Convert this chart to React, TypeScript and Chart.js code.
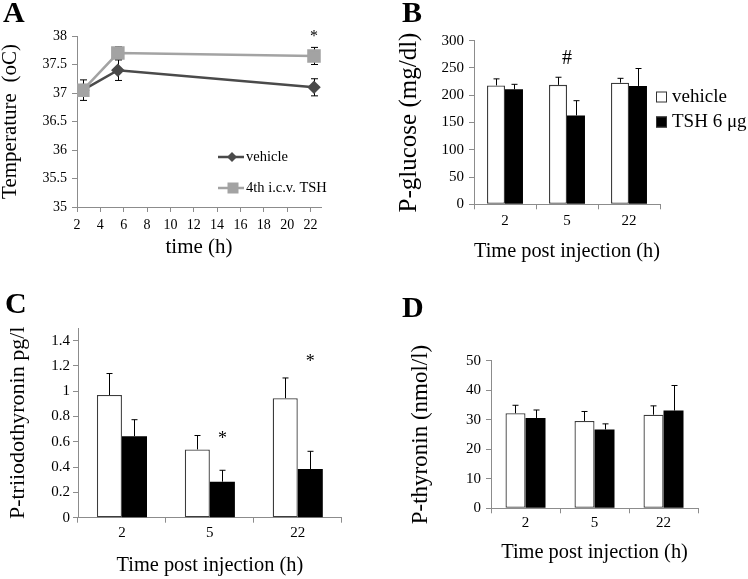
import React, { useEffect, useRef } from "react";
import { Chart, registerables } from "chart.js";
Chart.register(...registerables);

const FONT = "'Liberation Serif', 'Times New Roman', serif";
const AXIS = "#8c8c8c";

// ---------- Panel A: temperature ----------
const aTime = [2.5, 5.5, 22.3];
const aVehicle = [37.05, 37.4, 37.1];
const aVehicleErr = [0.18, 0.18, 0.15];
const aTsh = [37.05, 37.7, 37.65];
const aTshErr = [0.1, 0.11, 0.15];
const aLegend = ["vehicle", "4th i.c.v. TSH"];
const aSigTime = [22.3];
const aSigLevel = [37.92];

// ---------- Bar panels ----------
const barCategories = ["2", "5", "22"];

const bVehicle = [218, 219, 223];
const bVehicleErr = [12, 14, 8];
const bTsh = [211, 163, 217];
const bTshErr = [9, 27, 32];
const bLegend = ["vehicle", "TSH 6 μg"];
const bSigCategory = [1];
const bSigLevel = [258];

const cVehicle = [0.97, 0.54, 0.945];
const cVehicleErr = [0.17, 0.11, 0.16];
const cTsh = [0.645, 0.285, 0.385];
const cTshErr = [0.13, 0.09, 0.14];
const cSigCategory = [1, 2];
const cSigLevel = [0.583, 1.188];

const dVehicle = [32.2, 29.6, 31.7];
const dVehicleErr = [2.7, 3.2, 3.0];
const dTsh = [30.6, 26.7, 33.1];
const dTshErr = [2.7, 1.9, 8.5];

// ---------- plugins ----------
function drawErrors(chart: any, o: any) {
  const ctx = chart.ctx;
  const ys = chart.scales.y;
  ctx.save();
  ctx.strokeStyle = "#000";
  ctx.lineWidth = 1;
  (o.errors || []).forEach((errs: number[], di: number) => {
    const meta = chart.getDatasetMeta(di);
    const data = chart.data.datasets[di].data;
    meta.data.forEach((el: any, i: number) => {
      const raw = data[i];
      const v = typeof raw === "number" ? raw : raw.y;
      const e = errs[i];
      const top = ys.getPixelForValue(v + e);
      const bot = o.both ? ys.getPixelForValue(v - e) : ys.getPixelForValue(v);
      const x = Math.round(el.x) + 0.5;
      const cap = o.cap || 3;
      ctx.beginPath();
      ctx.moveTo(x, bot);
      ctx.lineTo(x, top);
      ctx.moveTo(x - cap, top);
      ctx.lineTo(x + cap, top);
      if (o.both) {
        ctx.moveTo(x - cap, bot);
        ctx.lineTo(x + cap, bot);
      }
      ctx.stroke();
    });
  });
  ctx.restore();
}

const errorBarPlugin = {
  id: "errorBars",
  beforeDatasetsDraw(chart: any, _a: any, o: any) {
    if (o.before) drawErrors(chart, o);
  },
  afterDatasetsDraw(chart: any, _a: any, o: any) {
    if (!o.before) drawErrors(chart, o);
  },
};

const marksPlugin = {
  id: "marks",
  afterDraw(chart: any, _a: any, o: any) {
    const ctx = chart.ctx;
    ctx.save();
    (o.items || []).forEach((m: any) => {
      ctx.font = m.font;
      ctx.fillStyle = "#000";
      ctx.textAlign = m.align || "left";
      ctx.textBaseline = "alphabetic";
      let x = m.x;
      let y = m.y;
      if (m.dataX !== undefined) x = chart.scales.x.getPixelForValue(m.dataX);
      if (m.category !== undefined) {
        if (m.dataset !== undefined) x = chart.getDatasetMeta(m.dataset).data[m.category].x;
        else x = chart.scales.x.getPixelForValue(m.category);
      }
      if (m.dataY !== undefined) y = chart.scales.y.getPixelForValue(m.dataY);
      ctx.fillText(m.text, x, y);
    });
    ctx.restore();
  },
};

const customLegendPlugin = {
  id: "customLegend",
  afterDraw(chart: any, _a: any, o: any) {
    const ctx = chart.ctx;
    ctx.save();
    (o.items || []).forEach((it: any) => {
      if (it.kind === "line") {
        ctx.strokeStyle = it.color;
        ctx.lineWidth = 2.5;
        ctx.beginPath();
        ctx.moveTo(it.x1, it.y);
        ctx.lineTo(it.x2, it.y);
        ctx.stroke();
        ctx.fillStyle = it.color;
        const mx = it.mx;
        if (it.marker === "diamond") {
          ctx.beginPath();
          ctx.moveTo(mx, it.y - 5);
          ctx.lineTo(mx + 5, it.y);
          ctx.lineTo(mx, it.y + 5);
          ctx.lineTo(mx - 5, it.y);
          ctx.closePath();
          ctx.fill();
        } else {
          ctx.fillRect(mx - 5.5, it.y - 5.5, 11, 11);
        }
      } else {
        ctx.fillStyle = it.fill;
        ctx.fillRect(it.bx, it.y - 5.5, 11, 11);
        ctx.strokeStyle = "#333";
        ctx.lineWidth = 1;
        ctx.strokeRect(it.bx + 0.5, it.y - 5, 10, 10);
      }
      ctx.fillStyle = "#000";
      ctx.font = it.font;
      ctx.textAlign = "left";
      ctx.textBaseline = "middle";
      ctx.fillText(it.label, it.tx, it.y);
    });
    ctx.restore();
  },
};

const letterPlugin = {
  id: "panelLetter",
  afterDraw(chart: any, _a: any, o: any) {
    const ctx = chart.ctx;
    ctx.save();
    ctx.font = `bold 30px ${FONT}`;
    ctx.fillStyle = "#000";
    ctx.textAlign = "left";
    ctx.textBaseline = "alphabetic";
    ctx.fillText(o.text, o.x, o.y);
    ctx.restore();
  },
};

const fmt = (v: any) => String(Math.round(Number(v) * 100) / 100);

function yAxis(p: any) {
  return {
    type: "linear",
    position: "left",
    min: p.min,
    max: p.max,
    afterFit: (s: any) => {
      s.width = p.width;
    },
    grid: { display: true, drawOnChartArea: false, drawTicks: true, tickLength: 5, color: AXIS, lineWidth: 1 },
    border: { display: true, color: AXIS, width: 1 },
    ticks: {
      stepSize: p.step,
      includeBounds: false,
      padding: p.tickPad,
      color: "#000",
      font: { family: FONT, size: p.tickSize },
      callback: fmt,
    },
    title: {
      display: true,
      text: p.title,
      color: "#000",
      font: { family: FONT, size: p.titleSize, lineHeight: 1 },
      padding: { top: p.titlePad, bottom: 0 },
    },
  };
}

function xTitle(text: string, size: number, pad: number) {
  return {
    display: true,
    text,
    color: "#000",
    font: { family: FONT, size, lineHeight: 1 },
    padding: { top: 0, bottom: pad },
  };
}

function makeA() {
  return {
    type: "line",
    data: {
      datasets: [
        {
          label: aLegend[0],
          data: aTime.map((t, i) => ({ x: t, y: aVehicle[i] })),
          borderColor: "#4a4a4a",
          backgroundColor: "#4a4a4a",
          borderWidth: 2.5,
          pointStyle: "rectRot",
          pointRadius: 5,
          order: 1,
        },
        {
          label: aLegend[1],
          data: aTime.map((t, i) => ({ x: t, y: aTsh[i] })),
          borderColor: "#a3a3a3",
          backgroundColor: "#a3a3a3",
          borderWidth: 2.5,
          pointStyle: "rect",
          pointRadius: 7.8,
          order: 0,
        },
      ],
    },
    options: {
      responsive: false,
      animation: false,
      layout: { padding: { left: 0, top: 36, right: 53, bottom: 0 } },
      scales: {
        x: {
          type: "linear",
          min: 2,
          max: 22.9,
          afterFit: (s: any) => {
            s.height = 83;
          },
          grid: { display: true, drawOnChartArea: false, drawTicks: true, tickLength: 5, color: AXIS },
          border: { display: true, color: AXIS, width: 1 },
          ticks: {
            stepSize: 2,
            includeBounds: false,
            padding: 4.5,
            color: "#000",
            maxRotation: 0,
            autoSkip: false,
            font: { family: FONT, size: 14 },
            callback: fmt,
          },
          title: xTitle("time (h)", 21, 32.5),
        },
        y: yAxis({ min: 35, max: 38, step: 0.5, width: 77, tickPad: 5, tickSize: 14, title: "Temperature  (oC)", titleSize: 21, titlePad: 0 }),
      },
      plugins: {
        legend: { display: false },
        tooltip: { enabled: false },
        errorBars: { errors: [aVehicleErr, aTshErr], both: true, cap: 3.5, before: true },
        marks: {
          items: aSigTime.map((t, i) => ({ text: "*", font: `16px ${FONT}`, align: "center", dataX: t, dataY: aSigLevel[i] })),
        },
        customLegend: {
          items: [
            { kind: "line", label: aLegend[0], color: "#4a4a4a", marker: "diamond", x1: 218, x2: 244, mx: 232, tx: 246, y: 157, font: `14.5px ${FONT}` },
            { kind: "line", label: aLegend[1], color: "#a3a3a3", marker: "square", x1: 218, x2: 244, mx: 233, tx: 246, y: 188, font: `14.5px ${FONT}` },
          ],
        },
        panelLetter: { text: "A", x: 3, y: 22 },
      },
    },
    plugins: [errorBarPlugin, marksPlugin, customLegendPlugin, letterPlugin],
  };
}

function makeBar(p: any) {
  return {
    type: "bar",
    data: {
      labels: barCategories,
      datasets: [
        {
          label: "vehicle",
          data: p.vehicle,
          backgroundColor: "#ffffff",
          borderColor: "#3c3c3c",
          borderWidth: 1.3,
          borderSkipped: false,
          categoryPercentage: p.catPct,
          barPercentage: 1,
        },
        {
          label: "TSH",
          data: p.tsh,
          backgroundColor: "#000000",
          borderColor: "#000000",
          borderWidth: 0,
          borderSkipped: false,
          categoryPercentage: p.catPct,
          barPercentage: 1,
        },
      ],
    },
    options: {
      responsive: false,
      animation: false,
      layout: { padding: { left: 0, top: p.top, right: p.right, bottom: 0 } },
      scales: {
        x: {
          type: "category",
          afterFit: (s: any) => {
            s.height = p.xHeight;
          },
          grid: { display: true, drawOnChartArea: false, drawTicks: true, tickLength: 5, color: AXIS, offset: true },
          border: { display: true, color: AXIS, width: 1 },
          ticks: { padding: p.xTickPad, color: "#000", font: { family: FONT, size: p.tickSize }, maxRotation: 0 },
          title: xTitle("Time post injection (h)", 20.4, p.xTitlePad),
        },
        y: yAxis({
          min: p.min,
          max: p.max,
          step: p.step,
          width: p.yWidth,
          tickPad: p.yTickPad,
          tickSize: p.tickSize,
          title: p.yTitle,
          titleSize: p.yTitleSize,
          titlePad: p.yTitlePad,
        }),
      },
      plugins: {
        legend: { display: false },
        tooltip: { enabled: false },
        errorBars: { errors: [p.vehicleErr, p.tshErr], both: false, cap: 3 },
        marks: { items: p.marks },
        customLegend: { items: p.legend || [] },
        panelLetter: p.letter,
      },
    },
    plugins: [errorBarPlugin, marksPlugin, customLegendPlugin, letterPlugin],
  };
}

function makeB() {
  return makeBar({
    vehicle: bVehicle,
    tsh: bTsh,
    vehicleErr: bVehicleErr,
    tshErr: bTshErr,
    catPct: 0.58,
    top: 40.7,
    right: 88,
    xHeight: 85.7,
    xTickPad: 2.4,
    xTitlePad: 28.3,
    tickSize: 15,
    min: 0,
    max: 300,
    step: 50,
    yWidth: 100,
    yTickPad: 5,
    yTitle: "P-glucose (mg/dl)",
    yTitleSize: 25,
    yTitlePad: 22.5,
    marks: bSigCategory.map((c, i) => ({ text: "#", font: `20px ${FONT}`, align: "center", category: c, dataY: bSigLevel[i] })),
    legend: [
      { kind: "box", label: bLegend[0], fill: "#ffffff", bx: 282, tx: 298, y: 97, font: `19px ${FONT}` },
      { kind: "box", label: bLegend[1], fill: "#000000", bx: 282, tx: 298, y: 122, font: `19px ${FONT}` },
    ],
    letter: { text: "B", x: 28, y: 22 },
  });
}

function makeC() {
  return makeBar({
    vehicle: cVehicle,
    tsh: cTsh,
    vehicleErr: cVehicleErr,
    tshErr: cTshErr,
    catPct: 0.57,
    top: 38,
    right: 32.3,
    xHeight: 61.3,
    xTickPad: 1.6,
    xTitlePad: 3.3,
    tickSize: 15,
    min: 0,
    max: 1.5,
    step: 0.2,
    yWidth: 78,
    yTickPad: 3,
    yTitle: "P-triiodothyronin pg/l",
    yTitleSize: 22,
    yTitlePad: 7,
    marks: cSigCategory.map((c, i) => ({ text: "*", font: `18px ${FONT}`, align: "center", category: c, dataset: 1, dataY: cSigLevel[i] })),
    legend: [],
    letter: { text: "C", x: 5, y: 23 },
  });
}

function makeD() {
  return makeBar({
    vehicle: dVehicle,
    tsh: dTsh,
    vehicleErr: dVehicleErr,
    tshErr: dTshErr,
    catPct: 0.58,
    top: 70.7,
    right: 50,
    xHeight: 70.7,
    xTickPad: 1,
    xTitlePad: 16.6,
    tickSize: 15,
    min: 0,
    max: 50,
    step: 10,
    yWidth: 117,
    yTickPad: 5,
    yTitle: "P-thyronin (nmol/l)",
    yTitleSize: 23,
    yTitlePad: 35.2,
    marks: [],
    legend: [],
    letter: { text: "D", x: 28, y: 27 },
  });
}

type PanelProps = { left: number; top: number; width: number; height: number; make: () => any };

function Panel({ left, top, width, height, make }: PanelProps) {
  const ref = useRef<HTMLCanvasElement>(null);
  useEffect(() => {
    const chart = new Chart(ref.current as HTMLCanvasElement, make() as any);
    return () => chart.destroy();
  }, []);
  return (
    <canvas
      ref={ref}
      width={width}
      height={height}
      style={{ position: "absolute", left, top, width, height, display: "block" }}
    />
  );
}

export default function App() {
  return (
    <div style={{ position: "absolute", left: 0, top: 0, width: 748, height: 579, background: "#ffffff", overflow: "hidden" }}>
      <Panel left={0} top={0} width={374} height={290} make={makeA} />
      <Panel left={374} top={0} width={374} height={290} make={makeB} />
      <Panel left={0} top={290} width={374} height={289} make={makeC} />
      <Panel left={374} top={290} width={374} height={289} make={makeD} />
    </div>
  );
}
